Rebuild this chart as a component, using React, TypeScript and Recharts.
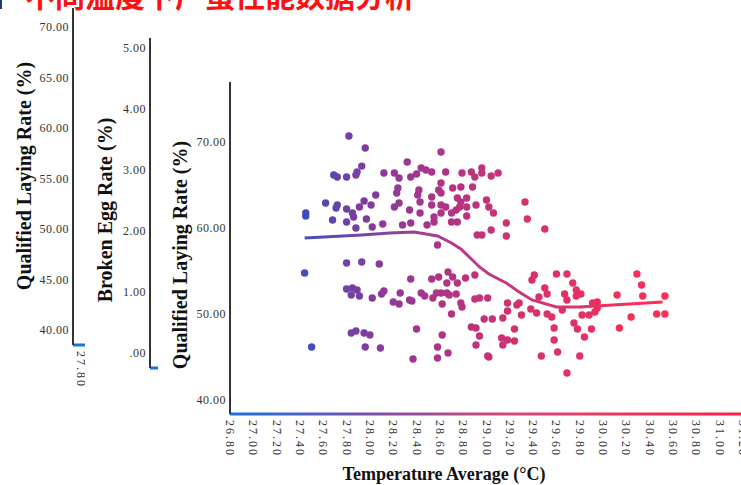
import React from 'react';
import { ScatterChart, Scatter, XAxis, YAxis } from 'recharts';

// main scatter: average temperature (°C) vs qualified laying rate (%)
const temps = [
  27.82, 27.96, 28.61, 28.32, 27.69, 27.72, 27.80, 27.88, 27.89, 27.93,
  28.12, 28.21, 28.25, 28.35, 28.40, 28.44, 28.48, 28.53, 28.65, 28.79,
  28.87, 28.90, 28.24, 28.23, 28.05, 28.42, 28.41, 28.61, 28.59, 28.61,
  28.53, 28.71, 28.78, 28.88, 27.62, 27.72, 27.71, 27.80, 27.95, 28.01,
  27.91, 28.25, 28.21, 28.34, 28.43, 28.43, 28.53, 28.61, 28.65, 28.75,
  28.78, 28.77, 28.74, 28.83, 28.83, 27.45, 27.45, 27.68, 27.85, 27.86,
  27.80, 27.88, 27.97, 28.02, 28.11, 28.28, 28.35, 28.49, 28.55, 28.55,
  28.61, 28.70, 28.70, 28.83, 28.75, 28.91, 28.92, 28.96, 28.58, 27.44,
  27.80, 27.93, 28.08, 28.35, 28.53, 28.59, 28.67, 28.71, 28.66, 28.75,
  28.82, 28.90, 27.80, 27.85, 27.89, 27.84, 27.91, 28.02, 28.10, 28.12,
  28.26, 28.20, 28.25, 28.34, 28.36, 28.44, 28.47, 28.54, 28.57, 28.61,
  28.66, 28.68, 28.74, 28.62, 28.78, 28.79, 28.70, 28.90, 28.94, 27.84,
  27.88, 27.95, 28.00, 27.96, 28.09, 27.50, 28.40, 28.62, 28.58, 28.67,
  28.58, 28.37, 28.87, 28.91, 28.94, 28.91, 28.96, 28.96, 29.04, 29.10,
  29.00, 29.02, 29.06, 29.33, 29.35, 29.17, 29.04, 29.17, 29.50, 29.41,
  29.39, 29.60, 29.69, 29.74, 29.77, 29.50, 29.52, 30.29, 30.33, 30.34,
  30.53, 30.12, 30.24, 30.46, 30.53, 30.14, 29.01, 29.18, 29.26, 29.28,
  29.18, 29.30, 28.98, 29.05, 29.14, 29.38, 29.43, 29.45, 29.52, 29.56,
  29.58, 29.67, 29.69, 29.77, 29.81, 29.82, 29.88, 29.91, 29.95, 29.93,
  29.65, 29.75, 29.78, 29.90, 29.84, 29.24, 29.24, 29.18, 29.13, 29.14,
  29.58, 29.61, 29.47, 29.80, 29.01, 29.02, 29.69, 29.95,
];
const rates = [
  70.7, 69.3, 68.84, 67.67, 66.16, 65.93, 65.93, 66.16, 66.51, 67.2,
  66.4, 66.4, 65.81, 65.93, 66.28, 66.98, 66.74, 66.51, 66.51, 66.4,
  66.51, 65.93, 64.65, 64.07, 63.84, 64.42, 63.84, 65.23, 64.42, 64.07,
  63.6, 64.65, 64.77, 64.77, 62.91, 62.67, 62.33, 62.21, 63.14, 62.67,
  62.44, 62.91, 62.44, 62.09, 63.02, 61.74, 62.67, 62.67, 62.44, 63.49,
  63.02, 62.44, 62.09, 63.49, 62.44, 61.74, 61.4, 60.93, 61.74, 61.28,
  60.7, 60.0, 61.05, 60.12, 60.47, 60.35, 60.58, 60.35, 61.28, 60.7,
  61.74, 61.74, 60.7, 61.4, 60.7, 62.67, 59.19, 59.19, 58.02, 54.77,
  55.93, 56.05, 55.81, 54.07, 54.07, 54.3, 54.88, 54.3, 53.6, 53.6,
  54.19, 54.53, 52.91, 53.02, 52.79, 52.21, 52.09, 51.86, 52.33, 52.67,
  52.44, 51.4, 51.16, 51.63, 51.51, 52.44, 52.09, 51.86, 52.44, 52.44,
  52.44, 52.21, 52.33, 51.16, 51.28, 50.81, 50.0, 51.74, 51.86, 47.79,
  48.02, 47.79, 47.56, 46.16, 46.05, 46.16, 48.26, 47.56, 46.16, 45.47,
  44.88, 44.77, 48.49, 48.37, 47.44, 46.4, 66.98, 66.4, 66.05, 66.4,
  63.26, 62.44, 61.74, 63.02, 61.05, 60.58, 59.77, 59.07, 59.88, 54.53,
  53.95, 54.65, 54.65, 53.6, 52.79, 53.02, 52.33, 54.65, 53.37, 52.09,
  52.09, 52.21, 49.65, 50.0, 50.0, 48.37, 51.86, 51.28, 51.05, 51.28,
  50.35, 49.88, 49.42, 49.42, 49.53, 50.58, 50.12, 51.98, 50.0, 49.65,
  48.37, 52.33, 51.63, 52.09, 52.33, 49.88, 49.88, 51.28, 51.4, 50.23,
  50.47, 48.95, 48.26, 48.26, 47.33, 48.26, 46.86, 46.98, 47.21, 46.4,
  46.98, 45.58, 45.12, 45.12, 45.12, 45.0, 43.14, 50.7,
];

// smoothed fit curve
const fitTemps = [27.44, 27.93, 28.17, 28.38, 28.58, 28.70, 28.78, 28.87, 28.94, 29.02, 29.17, 29.28, 29.39, 29.60, 29.80, 30.08, 30.51];
const fitRates = [58.84, 59.19, 59.42, 59.53, 59.07, 58.26, 57.56, 56.4, 55.47, 54.65, 53.6, 52.56, 51.63, 50.81, 50.81, 51.05, 51.4];

const xTicks = [26.8, 27.0, 27.2, 27.4, 27.6, 27.8, 28.0, 28.2, 28.4, 28.6, 28.8, 29.0, 29.2, 29.4, 29.6, 29.8, 30.0, 30.2, 30.4, 30.6, 30.8, 31.0, 31.2];
const mainRateTicks = [40, 50, 60, 70];
const sideRateTicks = [40, 45, 50, 55, 60, 65, 70];
const brokenTicks = [0, 1, 2, 3, 4, 5];
const sideTempTicks = [27.8];

const points = temps.map((t, i) => ({ temp: t, rate: rates[i] }));
const fit = fitTemps.map((t, i) => ({ temp: t, rate: fitRates[i] }));

const SERIF = "'Liberation Serif', 'Times New Roman', serif";
const TITLE_STYLE = { fontFamily: SERIF, fontWeight: 700, fontSize: 20, fill: '#111' };
const TICK_STYLE = { fontSize: 12, fill: '#333', fontFamily: SERIF, letterSpacing: 0.5 };

// colour of a dot follows the temperature, blue -> red
const STOPS: [number, number[]][] = [
  [27.4, [60, 75, 195]],
  [27.9, [122, 62, 160]],
  [28.5, [168, 52, 140]],
  [29.3, [212, 50, 108]],
  [30.6, [255, 45, 85]],
];
function dotColor(t: number) {
  if (t <= STOPS[0][0]) return `rgb(${STOPS[0][1].join(',')})`;
  for (let i = 1; i < STOPS.length; i++) {
    const [t1, c1] = STOPS[i];
    const [t0, c0] = STOPS[i - 1];
    if (t <= t1) {
      const k = (t - t0) / (t1 - t0);
      const c = c0.map((v, j) => Math.round(v + (c1[j] - v) * k));
      return `rgb(${c.join(',')})`;
    }
  }
  return `rgb(${STOPS[STOPS.length - 1][1].join(',')})`;
}

function RotTick(props: any) {
  const { x, y, payload } = props;
  return (
    <text transform={`translate(${x},${y}) rotate(90)`} dominantBaseline="central" {...TICK_STYLE} letterSpacing={2}>
      {Number(payload.value).toFixed(2)}
    </text>
  );
}

const yTitle = (text: string, x: number, y: number) => () => (
  <text transform={`translate(${x},${y}) rotate(-90)`} textAnchor="middle" dominantBaseline="central" {...TITLE_STYLE}>
    {text}
  </text>
);

const xTitle = (text: string, x: number, y: number) => () => (
  <text x={x} y={y} textAnchor="middle" dominantBaseline="central" {...TITLE_STYLE} fontSize={18}>
    {text}
  </text>
);

const fmt = (v: number) => (v === 0 ? '.00' : v.toFixed(2));

function App() {
  return (
    <div style={{ position: 'absolute', left: 0, top: 0, width: 741, height: 485, overflow: 'hidden', background: '#fff' }}>
      <svg width={0} height={0} style={{ position: 'absolute' }}>
        <defs>
          <linearGradient id="axisGrad" gradientUnits="userSpaceOnUse" x1={72} y1={0} x2={585} y2={0}>
            <stop offset="0" stopColor="#1e6ee6" />
            <stop offset="0.3" stopColor="#8050a0" />
            <stop offset="0.55" stopColor="#d84878" />
            <stop offset="1" stopColor="#ff1f44" />
          </linearGradient>
          <linearGradient id="fitGrad" gradientUnits="userSpaceOnUse" x1={147} y1={0} x2={505} y2={0}>
            <stop offset="0" stopColor="#4a4bc0" />
            <stop offset="0.4" stopColor="#b23a8c" />
            <stop offset="1" stopColor="#ff2d55" />
          </linearGradient>
        </defs>
      </svg>

      <div style={{ position: 'absolute', left: 0, top: 0, width: 2, height: 9, background: '#1f3a7a' }} />
      <div
        style={{
          position: 'absolute', left: 25, top: -21, fontFamily: "'Noto Sans CJK SC', sans-serif",
          fontWeight: 700, fontSize: 30, lineHeight: '30px', color: '#ff1010', whiteSpace: 'nowrap',
        }}
      >
        不同温度下产蛋性能数据分析
      </div>

      {/* left axis fragment: qualified laying rate */}
      <div style={{ position: 'absolute', left: 0, top: 0, width: 85, height: 485, overflow: 'hidden' }}>
        <ScatterChart width={600} height={485} margin={{ top: 8, right: 0, bottom: 0, left: 0 }}>
          <XAxis
            type="number" dataKey="temp" domain={[27.733, 32.13]} allowDataOverflow ticks={sideTempTicks}
            height={140} tickLine={false} tickSize={4} tickMargin={2} tick={<RotTick />}
            axisLine={{ stroke: '#1e6ee6', strokeWidth: 3 }}
          />
          <YAxis
            type="number" dataKey="rate" domain={[38.5, 71.9]} allowDataOverflow ticks={sideRateTicks}
            width={73} tickLine={false} tickSize={0} tickMargin={4} tick={TICK_STYLE} tickFormatter={fmt}
            axisLine={{ stroke: '#333', strokeWidth: 2 }}
            label={yTitle('Qualified Laying Rate (%)', 24, 176)}
          />
          <Scatter data={[]} isAnimationActive={false} />
        </ScatterChart>
      </div>

      {/* left axis fragment: broken egg rate */}
      <div style={{ position: 'absolute', left: 85, top: 0, width: 73, height: 485, overflow: 'hidden' }}>
        <ScatterChart width={600} height={485} margin={{ top: 38, right: 0, bottom: 0, left: 0 }}>
          <XAxis
            type="number" dataKey="temp" domain={[26.8, 31.2]} allowDataOverflow tick={false} tickLine={false}
            height={117} axisLine={{ stroke: '#1e6ee6', strokeWidth: 3 }}
          />
          <YAxis
            type="number" dataKey="broken" domain={[-0.25, 5.16]} allowDataOverflow ticks={brokenTicks}
            width={65} tickLine={false} tickSize={0} tickMargin={4} tick={TICK_STYLE} tickFormatter={fmt}
            axisLine={{ stroke: '#333', strokeWidth: 2 }}
            label={yTitle('Broken Egg Rate (%)', 20, 210)}
          />
          <Scatter data={[]} isAnimationActive={false} />
        </ScatterChart>
      </div>

      {/* main scatter */}
      <div style={{ position: 'absolute', left: 158, top: 0 }}>
        <ScatterChart width={585} height={485} margin={{ top: 82, right: 0, bottom: 0, left: 0 }}>
          <XAxis
            type="number" dataKey="temp" domain={[26.8, 31.2]} allowDataOverflow ticks={xTicks} interval={0}
            height={71} tickLine={false} tickSize={4} tickMargin={2} tick={<RotTick />}
            axisLine={{ stroke: 'url(#axisGrad)', strokeWidth: 3 }}
            label={xTitle('Temperature Average (°C)', 286, 474)}
          />
          <YAxis
            type="number" dataKey="rate" domain={[38.37, 76.98]} allowDataOverflow ticks={mainRateTicks}
            width={72} tickLine={false} tickSize={0} tickMargin={4} tick={TICK_STYLE} tickFormatter={fmt}
            axisLine={{ stroke: '#333', strokeWidth: 2 }}
            label={yTitle('Qualified Laying Rate (%)', 22, 255)}
          />
          <Scatter
            data={points}
            isAnimationActive={false}
            shape={(p: any) => <circle cx={p.cx} cy={p.cy} r={3.7} fill={dotColor(p.payload.temp)} />}
          />
          <Scatter
            data={fit}
            isAnimationActive={false}
            line={{ stroke: 'url(#fitGrad)', strokeWidth: 3 }}
            lineType="joint"
            shape={() => <g />}
          />
        </ScatterChart>
      </div>
    </div>
  );
}

export default App;
